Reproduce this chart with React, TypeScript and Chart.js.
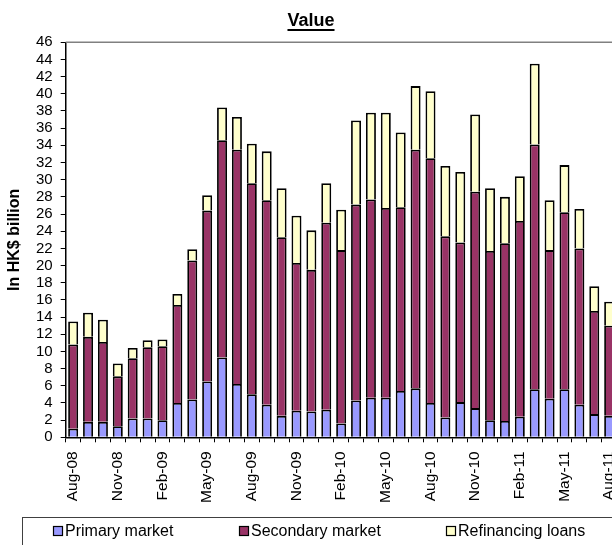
import React, { useEffect, useRef } from "react";
import { Chart, registerables } from "chart.js";

Chart.register(...registerables);

const months = [
  "Aug-08", "Sep-08", "Oct-08", "Nov-08", "Dec-08", "Jan-09", "Feb-09", "Mar-09", "Apr-09", "May-09",
  "Jun-09", "Jul-09", "Aug-09", "Sep-09", "Oct-09", "Nov-09", "Dec-09", "Jan-10", "Feb-10", "Mar-10",
  "Apr-10", "May-10", "Jun-10", "Jul-10", "Aug-10", "Sep-10", "Oct-10", "Nov-10", "Dec-10", "Jan-11",
  "Feb-11", "Mar-11", "Apr-11", "May-11", "Jun-11", "Jul-11", "Aug-11",
];

const primary = [
  1.0, 1.8, 1.8, 1.3, 2.2, 2.2, 2.0, 4.0, 4.4, 6.5,
  9.3, 6.2, 5.0, 3.8, 2.5, 3.1, 3.0, 3.2, 1.6, 4.3,
  4.6, 4.6, 5.4, 5.7, 4.0, 2.3, 4.1, 3.4, 2.0, 1.9,
  2.4, 5.6, 4.5, 5.6, 3.8, 2.7, 2.5,
];

const secondary = [
  9.8, 9.9, 9.3, 5.8, 7.0, 8.3, 8.6, 11.4, 16.2, 19.9,
  25.3, 27.3, 24.6, 23.8, 20.8, 17.2, 16.5, 21.8, 20.2, 22.8,
  23.1, 22.1, 21.4, 27.8, 28.5, 21.1, 18.6, 25.2, 19.7, 20.7,
  22.8, 28.5, 17.3, 20.6, 18.2, 12.0, 10.5,
];

const refinancing = [
  2.7, 2.8, 2.6, 1.5, 1.2, 0.8, 0.8, 1.3, 1.3, 1.8,
  3.8, 3.8, 4.6, 5.7, 5.7, 5.5, 4.6, 4.6, 4.7, 9.8,
  10.1, 11.1, 8.7, 7.4, 7.8, 8.2, 8.2, 9.0, 7.3, 5.4,
  5.2, 9.4, 5.8, 5.5, 4.6, 2.9, 2.8,
];

const seriesNames = ["Primary market", "Secondary market", "Refinancing loans"];
const seriesColors = ["#9999FF", "#993366", "#FFFFCC"];
const yMin = 0;
const yMax = 46;
const yStep = 2;
const chartTitle = "Value";
const yTitle = "In HK$ billion";

const FONT = "'Liberation Sans', Arial, sans-serif";
const CW = 640;
const CH = 580;

const decorPlugin = {
  id: "decor",
  afterDraw(chart: any) {
    const ctx = chart.ctx;
    const area = chart.chartArea;
    ctx.save();
    // plot area border (top / right)
    ctx.strokeStyle = "#808080";
    ctx.lineWidth = 1.5;
    ctx.beginPath();
    ctx.moveTo(area.left, area.top);
    ctx.lineTo(area.right, area.top);
    ctx.lineTo(area.right, area.bottom);
    ctx.stroke();

    // title
    ctx.fillStyle = "#000";
    ctx.font = `bold 18px ${FONT}`;
    ctx.textAlign = "center";
    ctx.textBaseline = "alphabetic";
    const tx = 311;
    const ty = 26;
    ctx.fillText(chartTitle, tx, ty);
    const tw = ctx.measureText(chartTitle).width;
    ctx.fillRect(tx - tw / 2, ty + 3, tw, 2);

    // legend frame
    ctx.strokeStyle = "#404040";
    ctx.lineWidth = 1;
    ctx.strokeRect(22.5, 517.5, 620, 80);

    // legend items
    const xs = [53, 239, 446];
    const cy = 531;
    ctx.font = `16px ${FONT}`;
    ctx.textAlign = "left";
    ctx.textBaseline = "middle";
    chart.data.datasets.forEach((ds: any, i: number) => {
      const x = xs[i];
      ctx.fillStyle = ds.backgroundColor;
      ctx.fillRect(x, cy - 5, 10, 10);
      ctx.strokeStyle = "#000";
      ctx.lineWidth = 1.2;
      ctx.strokeRect(x + 0.5, cy - 4.5, 9, 9);
      ctx.fillStyle = "#000";
      ctx.fillText(ds.label, x + 12, cy + 1);
    });
    ctx.restore();
  },
};

export default function App() {
  const ref = useRef<HTMLCanvasElement | null>(null);

  useEffect(() => {
    if (!ref.current) return;
    const datasets = [primary, secondary, refinancing].map((d, i) => ({
      label: seriesNames[i],
      data: d,
      backgroundColor: seriesColors[i],
      borderColor: "#000",
      borderWidth: 1.8,
      barPercentage: 0.67,
      categoryPercentage: 1,
    }));
    const chart = new Chart(ref.current, {
      type: "bar",
      data: { labels: months, datasets },
      options: {
        responsive: false,
        animation: false,
        layout: { padding: { left: 0, right: CW - 616.6, top: 42.3, bottom: CH - 437.3 - 90 } },
        plugins: {
          legend: { display: false },
          title: { display: false },
          tooltip: { enabled: false },
        },
        scales: {
          x: {
            stacked: true,
            offset: true,
            grid: {
              display: true,
              offset: true,
              drawOnChartArea: false,
              drawTicks: true,
              tickLength: 5,
              color: "#000",
            },
            border: { display: true, color: "#000", width: 1.5 },
            ticks: {
              autoSkip: false,
              minRotation: 90,
              maxRotation: 90,
              padding: 9,
              color: "#000",
              font: { family: FONT, size: 15.5 },
              callback: (_v: any, i: number) => (i % 3 === 0 ? months[i] : ""),
            },
            afterFit: (axis: any) => {
              axis.height = 90;
            },
          },
          y: {
            stacked: true,
            min: yMin,
            max: yMax,
            grid: {
              display: true,
              drawOnChartArea: false,
              drawTicks: true,
              tickLength: 5,
              color: "#000",
            },
            border: { display: true, color: "#000", width: 1.5 },
            ticks: {
              stepSize: yStep,
              autoSkip: false,
              padding: 8,
              color: "#000",
              font: { family: FONT, size: 15 },
            },
            title: {
              display: true,
              text: yTitle,
              color: "#000",
              font: { family: FONT, size: 16, weight: "bold" },
              padding: { top: 5, bottom: 0 },
            },
            afterFit: (axis: any) => {
              axis.width = 65.7;
            },
          },
        },
      },
      plugins: [decorPlugin],
    });
    return () => chart.destroy();
  }, []);

  return (
    <div
      style={{
        position: "fixed",
        left: 0,
        top: 0,
        width: 612,
        height: 545,
        overflow: "hidden",
        background: "#fff",
      }}
    >
      <canvas ref={ref} width={CW} height={CH} style={{ display: "block", width: CW, height: CH }} />
    </div>
  );
}
